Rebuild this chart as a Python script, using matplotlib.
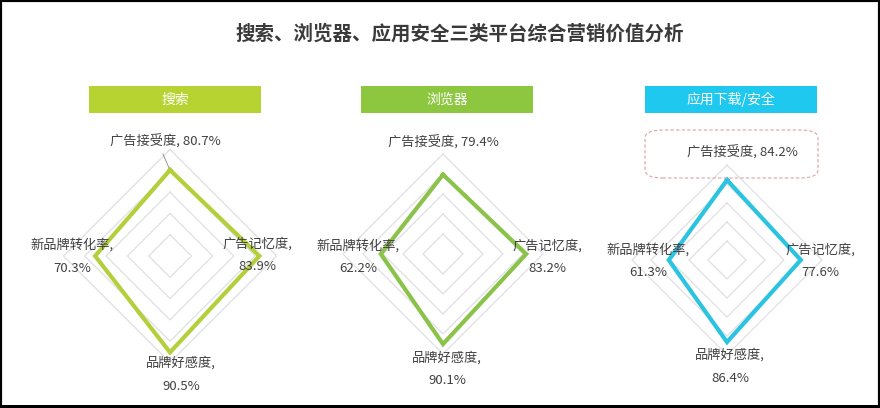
import numpy as np
import matplotlib
matplotlib.use('Agg')
import matplotlib.pyplot as plt
from matplotlib.patches import Rectangle, FancyBboxPatch
from matplotlib.lines import Line2D

plt.rcParams['font.family'] = ['Noto Sans CJK SC', 'DejaVu Sans']

# data
title = '搜索、浏览器、应用安全三类平台综合营销价值分析'
platforms = ['搜索', '浏览器', '应用下载/安全']
categories = ['广告接受度', '广告记忆度', '品牌好感度', '新品牌转化率']
search_vals = [80.7, 83.9, 90.5, 70.3]
browser_vals = [79.4, 83.2, 90.1, 62.2]
appsafe_vals = [84.2, 77.6, 86.4, 61.3]
grid_levels = [20, 40, 60, 80, 100]

# styling / layout (pixels, top-left origin)
W, H = 880, 408
head_colors = ['#b7d332', '#8dc63f', '#1ec8ee']
line_colors = ['#b3cf3a', '#8bc34a', '#2ac3e0']
centers = [(170, 256), (443, 254), (727, 260)]
scales = [1.065, 1.0, 0.95]      # pixels per percent
head_x = [89, 361, 645]
head_w, head_y, head_h = 172, 86, 27
txt_color = '#404040'

# label anchors: top (one line), right, bottom, left (two lines)
label_pos = [
    {'top': (165, 142), 'right': (257, 244), 'bottom': (181, 363), 'left': (72, 245)},
    {'top': (443, 143), 'right': (547, 246), 'bottom': (447, 358), 'left': (358, 246)},
    {'top': (742, 153), 'right': (820, 250), 'bottom': (730, 355), 'left': (648, 250)},
]
line_gap = 23

fig = plt.figure(figsize=(W / 100, H / 100), dpi=100)


def fx(x):
    return x / W


def fy(y):
    return 1 - y / H


angles = np.deg2rad([90, 0, -90, 180])
all_vals = [search_vals, browser_vals, appsafe_vals]
half = 140

for i, vals in enumerate(all_vals):
    cx, cy = centers[i]
    s = scales[i]
    ax = fig.add_axes([fx(cx - half), fy(cy + half), 2 * half / W, 2 * half / H])
    ax.set_xlim(-half / s, half / s)
    ax.set_ylim(-half / s, half / s)
    ax.axis('off')
    ax.patch.set_alpha(0)

    # diamond grid
    for g in grid_levels:
        gx = np.append(g * np.cos(angles), g * np.cos(angles[0]))
        gy = np.append(g * np.sin(angles), g * np.sin(angles[0]))
        ax.plot(gx, gy, color='#e0e0e4', lw=0.9, zorder=1)

    # data polygon
    v = np.array(vals)
    px = np.append(v * np.cos(angles), v[0] * np.cos(angles[0]))
    py = np.append(v * np.sin(angles), v[0] * np.sin(angles[0]))
    ax.plot(px, py, color=line_colors[i], lw=3, zorder=3, solid_joinstyle='miter')

    # header box
    fig.add_artist(Rectangle((fx(head_x[i]), fy(head_y + head_h)), head_w / W, head_h / H,
                             transform=fig.transFigure, facecolor=head_colors[i],
                             edgecolor='none'))
    fig.text(fx(head_x[i] + head_w / 2), fy(head_y + head_h / 2), platforms[i],
             color='white', fontsize=10, ha='center', va='center')

    # labels
    lp = label_pos[i]
    tx, ty = lp['top']
    fig.text(fx(tx), fy(ty), f'{categories[0]}, {vals[0]}%', color=txt_color,
             fontsize=9.5, ha='center', va='center')
    for key, k in (('right', 1), ('bottom', 2), ('left', 3)):
        lx, ly = lp[key]
        fig.text(fx(lx), fy(ly), f'{categories[k]},', color=txt_color,
                 fontsize=9.5, ha='center', va='center')
        fig.text(fx(lx), fy(ly + line_gap), f'{vals[k]}%', color=txt_color,
                 fontsize=9.5, ha='center', va='center')

# leader line from the first chart's top label
fig.add_artist(Line2D([fx(163), fx(169)], [fy(154), fy(168)], color='#888888', lw=0.6))

# dashed rounded box around the top label of the third chart
fig.add_artist(FancyBboxPatch((fx(645), fy(178)), 173 / W, 48 / H,
                              boxstyle='round,pad=0,rounding_size=0.02',
                              transform=fig.transFigure, facecolor='none',
                              edgecolor='#dba3a3', lw=0.8, linestyle=(0, (3, 2))))

# title
fig.text(fx(460), fy(34), title, color='#3a3a3a', fontsize=14, fontweight='bold',
         ha='center', va='center')

# outer frame
fig.add_artist(Rectangle((0, 0), 1, 1, transform=fig.transFigure, facecolor='none',
                         edgecolor='black', lw=3))
fig.add_artist(Rectangle((0, 0), 1, 3 / H, transform=fig.transFigure, facecolor='black',
                         edgecolor='none'))

fig.savefig('out.png', dpi=100)
